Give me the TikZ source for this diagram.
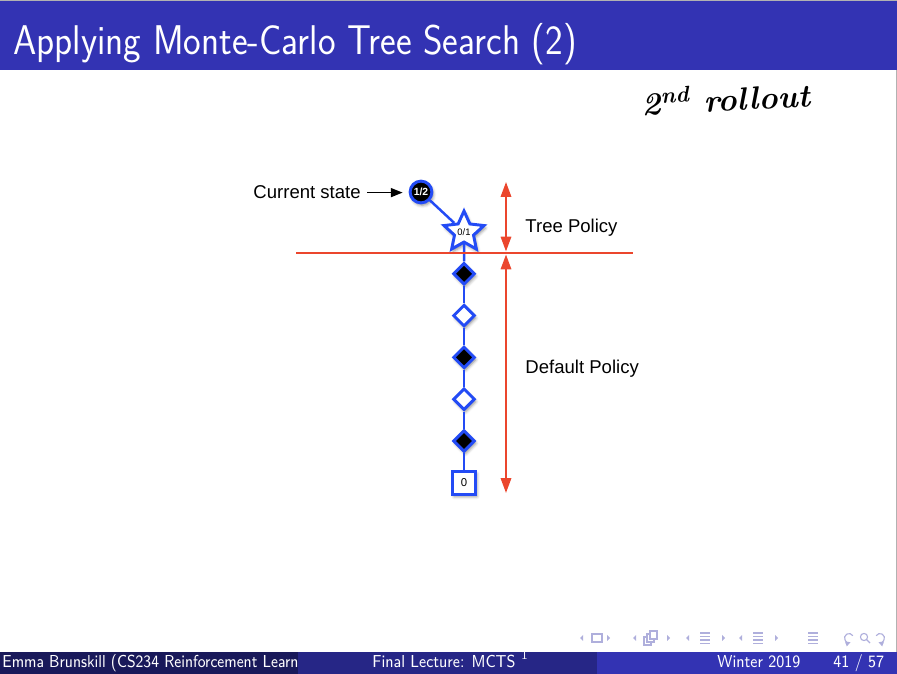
\documentclass[tikz,border=0pt]{standalone}
\usepackage{fontspec}
\newfontfamily\helv{Liberation Sans}
\usetikzlibrary{positioning,shapes,shadows.blur,arrows.meta}

\definecolor{structblue}{RGB}{51,51,179}
\definecolor{nodeblue}{RGB}{35,75,245}
\definecolor{policyred}{RGB}{235,70,45}
\definecolor{navgray}{RGB}{175,175,220}

\begin{document}
\begin{tikzpicture}[%
        x=0.4045pt, y=-0.4045pt,
        >={Triangle[width=4.2pt,length=6pt]},
        on grid,
        node distance=16.9pt,
        label text/.style={font=\helv\fontsize{7.5}{9}\selectfont, inner sep=0pt, anchor=base west},
        foot text/.style={font=\sffamily\fontsize{7}{8}\selectfont, text=white, inner sep=0pt, anchor=base west, xscale=0.87},
        treenode/.style={%
          draw=nodeblue, line width=1.2pt, inner sep=0pt,
          blur shadow={shadow xshift=0.6pt, shadow yshift=-1pt, shadow blur radius=1.2pt, shadow opacity=45}
        },
        visited/.style={treenode, circle, fill=black, minimum size=8.8pt, text=white, font=\helv\bfseries\fontsize{4.2}{4}\selectfont},
        newleaf/.style={treenode, star, star points=5, star point ratio=2.1, fill=white, minimum size=17pt, font=\helv\fontsize{3.8}{4}\selectfont},
        blackmove/.style={treenode, diamond, fill=black, minimum size=8.8pt},
        whitemove/.style={treenode, diamond, fill=white, minimum size=8.8pt},
        terminal/.style={treenode, rectangle, fill=white, minimum size=9.2pt, font=\helv\fontsize{4.6}{5}\selectfont},
        tree edge/.style={draw=nodeblue, line width=1pt},
        policy/.style={<->, draw=policyred, fill=policyred, line width=0.8pt}
      ]
      \useasboundingbox (0,0) rectangle (897,674);
      % title bar
      \fill[structblue] (0,0) rectangle (897,70);
      \draw[gray!60, line width=0.4pt] (0,0.5) -- (897,0.5) (896.5,70) -- (896.5,652);
      \node[anchor=base west, text=white, inner sep=0pt, xscale=0.9, font=\sffamily\fontsize{16.8}{19}\selectfont] (title) at (13,55) {Applying Monte-Carlo Tree Search (2)};
      % handwritten note
      \node[font=\bfseries\itshape\fontsize{13}{15}\selectfont, rotate=3] (note) at (726,98) {2\textsuperscript{nd} rollout};

      % the tree
      \node[visited] (root) at (421,192) {1/2};
      \node[newleaf] (leaf) [below right=16.2pt and 17.4pt of root] {0/1};
      \node[blackmove] (d1) [below=of leaf] {};
      \node[whitemove] (d2) [below=of d1] {};
      \node[blackmove] (d3) [below=of d2] {};
      \node[whitemove] (d4) [below=of d3] {};
      \node[blackmove] (d5) [below=of d4] {};
      \node[terminal] (end) [below=of d5] {0};
      \path[tree edge] (root) edge (leaf)
        (leaf) edge (d1)
        (d1) edge (d2)
        (d2) edge (d3)
        (d3) edge (d4)
        (d4) edge (d5)
        (d5) edge (end);

      \node[label text] (cs) at (253,199) {Current state};
      \draw[->, >={Triangle[width=3.6pt,length=4.8pt]}, line width=0.7pt, shorten >=2.4pt] (cs.east) ++(2.4pt,0) coordinate (csarrow) -- (csarrow -| root.west);

      % policies
      \coordinate (split west) at (296,253);
      \coordinate (split east) at (633,253);
      \coordinate (tp top) at (506,182);
      \coordinate (tp bottom) at (506,251.5);
      \coordinate (dp top) at (506,254.5);
      \coordinate (dp bottom) at (506,493);
      \draw[policyred, line width=0.8pt] (split west) -- (split east);
      \draw[policy] (tp top) -- (tp bottom);
      \draw[policy] (dp top) -- (dp bottom);
      \node[label text] (tp) at (525,233) {Tree Policy};
      \node[label text] (dp) at (525,374) {Default Policy};

      % navigation symbols
      \foreach \x in {580,633,686,739}
        \fill[navgray] (\x,638) -- ++(3,-3) -- ++(0,6) -- cycle;
      \foreach \x in {610,670,725,778}
        \fill[navgray] (\x,638) -- ++(-3,-3) -- ++(0,6) -- cycle;
      \begin{scope}[navgray, line width=0.45pt]
        \draw (592,634) rectangle (602,642);
        \draw[fill=white] (644,637) rectangle (651,645);
        \draw[fill=white] (647,634) rectangle (654,642);
        \draw[fill=white] (650,631) rectangle (657,639);
        \foreach \x in {700,753,808}
          \foreach \y in {633,636.5,640,643.5}
            \draw (\x,\y) -- ++(10,0);
        \draw[-{Triangle[width=2pt,length=2pt]}] (849,638) ++(-30:4.5) arc[start angle=-30, end angle=-290, radius=4.5];
        \draw (864,637) circle[radius=3.6];
        \draw (866.5,639.5) -- (870,643);
        \draw[-{Triangle[width=2pt,length=2pt]}] (880,638) ++(210:4.5) arc[start angle=210, end angle=470, radius=4.5];
      \end{scope}

      % footline
      \fill[structblue!50!black] (0,652) rectangle (298,674);
      \fill[structblue!75!black] (298,652) rectangle (597,674);
      \fill[structblue] (597,652) rectangle (897,674);
      \begin{scope}
        \clip (0,652) rectangle (298,674);
        \node[foot text, xscale=0.975] (author) at (2,667) {Emma Brunskill (CS234 Reinforcement Learn};
      \end{scope}
      \node[foot text] (talk) at (372,667) {Final Lecture: MCTS $^1$};
      \node[foot text] (date) at (717,667) {Winter 2019};
      \node[foot text] (page) at (833,667) {41 / 57};
  \end{tikzpicture}
\end{document}
